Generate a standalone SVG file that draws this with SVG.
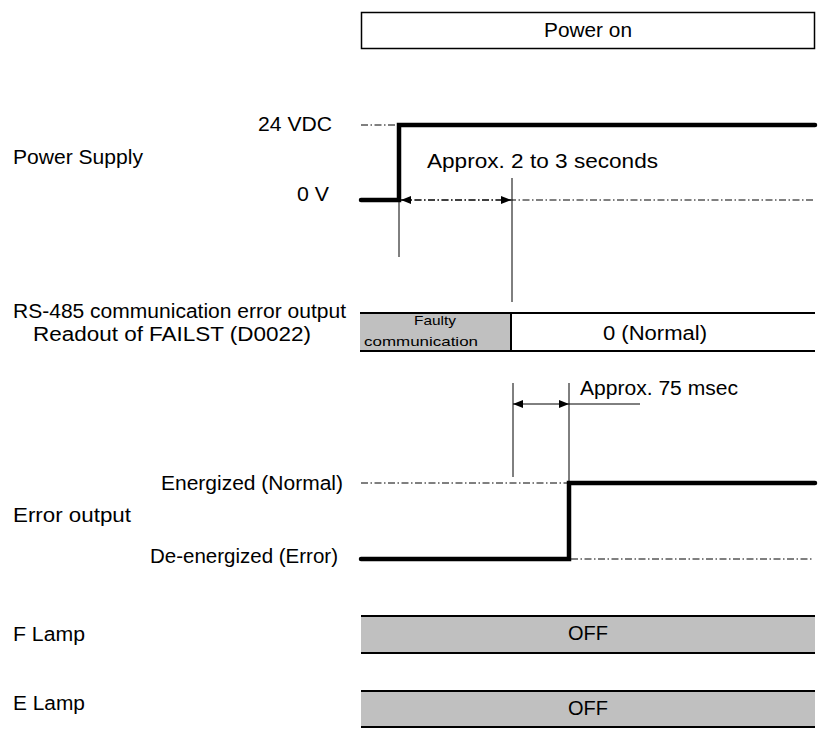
<svg xmlns="http://www.w3.org/2000/svg" width="820" height="729" viewBox="0 0 820 729">
<defs>
<style>
text{font-family:"Liberation Sans",Arial,sans-serif;font-size:20px;fill:#000}
.sm{font-size:13px}
.thin{stroke:#000;stroke-width:1;fill:none}
.dd{stroke:#000;stroke-width:1;fill:none;stroke-dasharray:7 2.5 1.5 2.5}
.thick{stroke:#000;stroke-width:4.5;fill:none;stroke-linecap:round;stroke-linejoin:miter}
.band{stroke:#000;stroke-width:2;fill:none}
.gray{fill:#c0c0c0;stroke:none}
.mid{text-anchor:middle}
.end{text-anchor:end}
</style>
<marker id="ah" viewBox="0 0 10 8" refX="10" refY="4" markerWidth="10" markerHeight="8" markerUnits="userSpaceOnUse" orient="auto-start-reverse">
<path d="M0,0 L10,4 L0,8 Z" fill="#000"/>
</marker>
</defs>
<rect width="820" height="729" fill="#fff"/>

<g id="power-on">
<rect x="361.5" y="12.5" width="453" height="36" fill="#fff" stroke="#000" stroke-width="1.5"/>
<text x="588" y="37" class="mid" textLength="88" lengthAdjust="spacingAndGlyphs">Power on</text>
</g>

<g id="power-supply">
<text x="13" y="164" textLength="130" lengthAdjust="spacingAndGlyphs">Power Supply</text>
<text x="332" y="131" class="end" textLength="74" lengthAdjust="spacingAndGlyphs">24 VDC</text>
<text x="329" y="201" class="end" textLength="32" lengthAdjust="spacingAndGlyphs">0 V</text>
<line x1="361" y1="125" x2="398" y2="125" class="dd"/>
<line x1="401" y1="200" x2="815" y2="200" class="dd"/>
<path d="M361,200 H399 V125 H815" class="thick"/>
</g>

<g id="rs485">
<text x="13" y="318" textLength="333" lengthAdjust="spacingAndGlyphs">RS-485 communication error output</text>
<text x="33" y="341" textLength="278" lengthAdjust="spacingAndGlyphs">Readout of FAILST (D0022)</text>
<rect x="360" y="313" width="151" height="38" class="gray"/>
<line x1="360" y1="313" x2="815" y2="313" class="band"/>
<line x1="360" y1="351" x2="815" y2="351" class="band"/>
<line x1="511" y1="313" x2="511" y2="351" class="band"/>
<text x="435" y="325" class="sm mid" textLength="42" lengthAdjust="spacingAndGlyphs">Faulty</text>
<text x="421" y="346" class="sm mid" textLength="114" lengthAdjust="spacingAndGlyphs">communication</text>
<text x="655" y="340" class="mid" textLength="104" lengthAdjust="spacingAndGlyphs">0 (Normal)</text>
</g>

<g id="error-output">
<text x="13" y="522" textLength="118" lengthAdjust="spacingAndGlyphs">Error output</text>
<text x="343" y="490" class="end" textLength="182" lengthAdjust="spacingAndGlyphs">Energized (Normal)</text>
<text x="338" y="563" class="end" textLength="188" lengthAdjust="spacingAndGlyphs">De-energized (Error)</text>
<line x1="361" y1="483" x2="567" y2="483" class="dd"/>
<line x1="571" y1="559" x2="814" y2="559" class="dd"/>
<path d="M361,559 H569 V483 H815" class="thick"/>
</g>

<g id="f-lamp">
<text x="13" y="641" textLength="72" lengthAdjust="spacingAndGlyphs">F Lamp</text>
<rect x="361" y="616" width="454" height="37" class="gray"/>
<line x1="361" y1="616" x2="815" y2="616" class="band"/>
<line x1="361" y1="653" x2="815" y2="653" class="band"/>
<text x="588" y="640" class="mid" textLength="40" lengthAdjust="spacingAndGlyphs">OFF</text>
</g>

<g id="e-lamp">
<text x="13" y="710" textLength="72" lengthAdjust="spacingAndGlyphs">E Lamp</text>
<rect x="361" y="691" width="454" height="36" class="gray"/>
<line x1="361" y1="691" x2="815" y2="691" class="band"/>
<line x1="361" y1="727" x2="815" y2="727" class="band"/>
<text x="588" y="715" class="mid" textLength="40" lengthAdjust="spacingAndGlyphs">OFF</text>
</g>

<g id="connectors">
<line x1="399" y1="200" x2="399" y2="257" class="thin"/>
<line x1="512" y1="178" x2="512" y2="302" class="thin"/>
<line x1="401" y1="200" x2="511" y2="200" class="dd" marker-start="url(#ah)" marker-end="url(#ah)"/>
<text x="427" y="168" textLength="231" lengthAdjust="spacingAndGlyphs">Approx. 2 to 3 seconds</text>
<line x1="513" y1="383" x2="513" y2="477" class="thin"/>
<line x1="569" y1="383" x2="569" y2="483" class="thin"/>
<line x1="513" y1="404" x2="569" y2="404" class="thin" marker-start="url(#ah)" marker-end="url(#ah)"/>
<line x1="569" y1="404" x2="640" y2="404" class="thin"/>
<text x="580" y="395" textLength="158" lengthAdjust="spacingAndGlyphs">Approx. 75 msec</text>
</g>
</svg>
